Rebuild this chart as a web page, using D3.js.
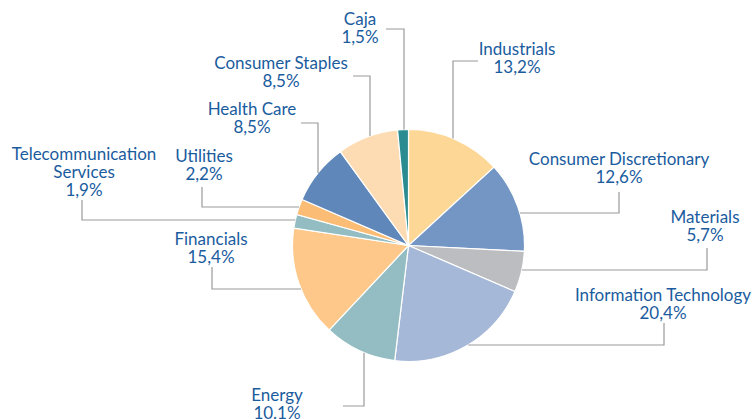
<!DOCTYPE html>
<html>
<head>
<meta charset="utf-8">
<script src="https://cdn.jsdelivr.net/npm/d3@7"></script>
<style>
  body { margin: 0; background: #fff; }
  text { font-family: Lato, "Open Sans", sans-serif; }
</style>
</head>
<body>
<script>
// sectors in clockwise order from 12 o'clock
var sectors = ["Industrials", "Consumer Discretionary", "Materials", "Information Technology",
               "Energy", "Financials", "Telecommunication Services", "Utilities",
               "Health Care", "Consumer Staples", "Caja"];
var weights = [13.2, 12.6, 5.7, 20.4, 10.1, 15.4, 1.9, 2.2, 8.5, 8.5, 1.5];
var nameLines = [["Industrials"], ["Consumer Discretionary"], ["Materials"], ["Information Technology"],
                 ["Energy"], ["Financials"], ["Telecommunication", "Services"], ["Utilities"],
                 ["Health Care"], ["Consumer Staples"], ["Caja"]];
var pctLabels = ["13,2%", "12,6%", "5,7%", "20,4%", "10.1%", "15,4%", "1,9%", "2,2%", "8,5%", "8,5%", "1,5%"];

var colors = ["#fdd796", "#7396c4", "#bcbdc0", "#a6b8d8", "#93bdc2", "#fdc88a",
              "#93bdc2", "#fbbd76", "#5f87ba", "#fddcb4", "#2a8c91"];

var WIDTH = 752, HEIGHT = 419;
var CX = 408.5, CY = 245.5, R = 116;
var LINE_H = 18;

// label layout: text centre x, first baseline y, leader start, elbow, last segment direction
var layout = [
  {tx: 517, ty: 55,  p0: [478, 61],  p1: [453, 61],  dir: "v"},
  {tx: 619, ty: 165, p0: [619, 192], p1: [619, 213], dir: "h"},
  {tx: 705, ty: 223, p0: [707, 248], p1: [707, 270], dir: "h"},
  {tx: 663, ty: 301, p0: [664, 323], p1: [664, 345], dir: "h"},
  {tx: 277, ty: 401, p0: [343, 406], p1: [364, 406], dir: "v"},
  {tx: 211, ty: 245, p0: [212, 267], p1: [212, 289], dir: "h"},
  {tx: 84,  ty: 160, p0: [82, 200],  p1: [82, 220],  dir: "h"},
  {tx: 204, ty: 162, p0: [202, 187], p1: [202, 207], dir: "h"},
  {tx: 252, ty: 115, p0: [301, 123], p1: [318, 123], dir: "v"},
  {tx: 281, ty: 69,  p0: [353, 76],  p1: [370, 76],  dir: "v"},
  {tx: 360, ty: 25,  p0: [386, 29],  p1: [404, 29],  dir: "v"}
];

var pieEnd = function (p, dir) {
  if (dir === "v") {
    var dy = Math.sqrt(R * R - (p[0] - CX) * (p[0] - CX));
    return [p[0], p[1] < CY ? CY - dy : CY + dy];
  }
  var dx = Math.sqrt(R * R - (p[1] - CY) * (p[1] - CY));
  return [p[0] < CX ? CX - dx : CX + dx, p[1]];
};

var svg = d3.select("body").append("svg")
    .attr("width", WIDTH)
    .attr("height", HEIGHT);

var pie = d3.pie().sort(null).value(function (d) { return d; });
var arc = d3.arc().innerRadius(0).outerRadius(R);

svg.append("g")
    .attr("transform", "translate(" + CX + "," + CY + ")")
  .selectAll("path")
    .data(pie(weights))
    .enter().append("path")
    .attr("d", arc)
    .attr("fill", function (d, i) { return colors[i]; })
    .attr("stroke", "#fff")
    .attr("stroke-width", 1.2);

var line = d3.line();

svg.append("g").selectAll("path")
    .data(layout)
    .enter().append("path")
    .attr("d", function (d) { return line([d.p0, d.p1, pieEnd(d.p1, d.dir)]); })
    .attr("fill", "none")
    .attr("stroke", "#9a9a9a")
    .attr("stroke-width", 1.2);

var labels = svg.append("g").selectAll("text")
    .data(sectors)
    .enter().append("text")
    .attr("text-anchor", "middle")
    .attr("font-size", 17)
    .attr("fill", "#1a5c9e");

labels.each(function (d, i) {
  var t = d3.select(this);
  var lines = nameLines[i].concat([pctLabels[i]]);
  lines.forEach(function (s, k) {
    t.append("tspan")
      .attr("x", layout[i].tx)
      .attr("y", layout[i].ty + k * LINE_H)
      .text(s);
  });
});
</script>
</body>
</html>
